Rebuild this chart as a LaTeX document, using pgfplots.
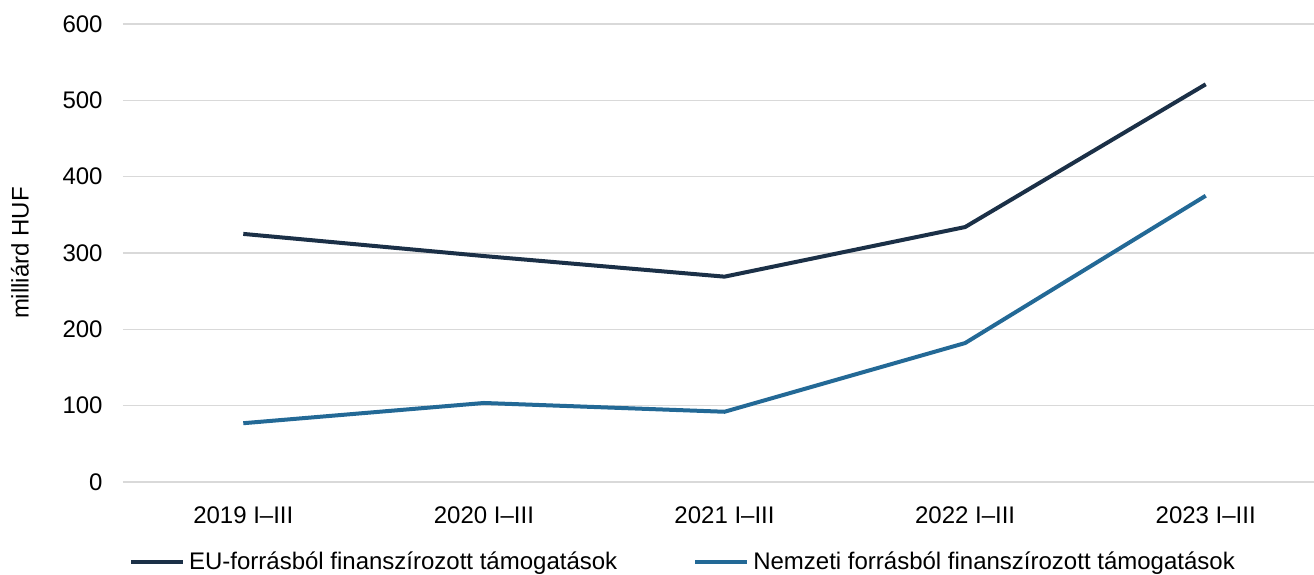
\documentclass[border=0pt]{standalone}
\usepackage{pgfplots}
\pgfplotsset{compat=1.18}
\usepackage{fontspec}
\setmainfont{Liberation Sans}
\definecolor{eucol}{HTML}{1B3047}
\definecolor{natcol}{HTML}{236996}
\definecolor{gridcol}{HTML}{D9D9D9}
\begin{document}
\fontsize{12}{14}\selectfont
\begin{tikzpicture}
\begin{axis}[scale only axis,width=595.5pt,height=229pt,
  font=\fontsize{12}{14}\selectfont,
  /pgf/number format/assume math mode=true,
  xmin=-0.5,xmax=4.45,ymin=0,ymax=600,
  xtick={0,1,2,3,4},
  xticklabels={2019 I--III,2020 I--III,2021 I--III,2022 I--III,2023 I--III},
  ytick={0,100,...,600},
  ymajorgrids,grid style={gridcol,line width=0.8pt},
  axis y line*=left,axis x line*=bottom,
  y axis line style={draw=none},
  x axis line style={gridcol,line width=0.8pt,-},
  major tick length=0pt,
  xticklabel style={yshift=-8pt},
  yticklabel style={xshift=-6pt},
  ylabel={milliárd HUF},
  ylabel style={at={(axis description cs:-0.0865,0.5)},anchor=center},
  clip=false,
  legend columns=2,
  legend style={draw=none,at={(0.471,-0.175)},anchor=center,
    font=\fontsize{12}{14}\selectfont,
    /tikz/every even column/.append style={column sep=36pt}},
  legend cell align=left,
  legend image code/.code={\draw[#1] (0pt,0pt) -- (26pt,0pt);},
]
\addplot[eucol,line width=2pt] coordinates {(0,325)(1,296)(2,269)(3,334)(4,521)};
\addlegendentry{EU-forrásból finanszírozott támogatások}
\addplot[natcol,line width=2pt] coordinates {(0,77)(1,103.5)(2,92)(3,182)(4,375)};
\addlegendentry{Nemzeti forrásból finanszírozott támogatások}
\end{axis}
\pgfresetboundingbox
\path ([shift={(-61.5pt,-46.5pt)}]current axis.south west) rectangle ([shift={(0pt,12pt)}]current axis.north east);
\end{tikzpicture}
\end{document}
